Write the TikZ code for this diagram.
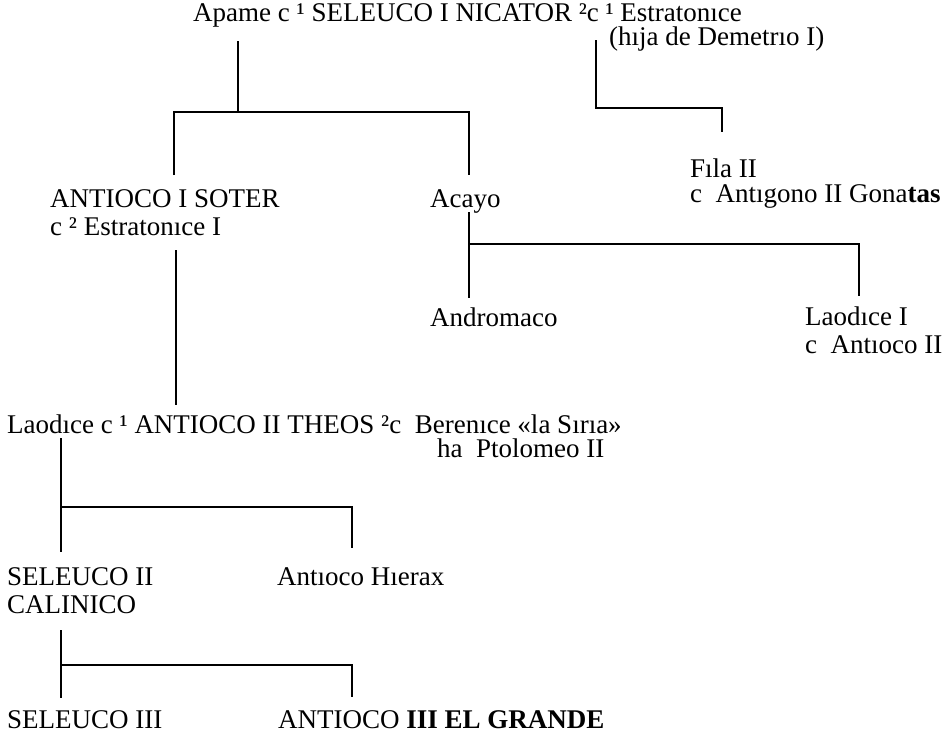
\documentclass[tikz,border=0pt]{standalone}
\usepackage{fontspec}
\setmainfont{Liberation Serif}
\newfontfamily\tnrfont{Liberation Serif}
\begin{document}
\begin{tikzpicture}[x=1pt,y=-1pt,
  person/.style={inner sep=0pt, anchor=base west, align=left, font=\tnrfont\fontsize{27}{28}\selectfont},
  tight/.style={font=\tnrfont\fontsize{27}{25}\selectfont},
  link/.style={line width=1.3pt, line cap=butt}]
\useasboundingbox[fill=white] (0,0) rectangle (943,740);
% persons (multi-line nodes are placed at the baseline of their last line)
\node[person] (seleuco1) at (193,21) {Apame c ¹ SELEUCO I NICATOR ²c ¹ Estratonıce};
\node[person] (hija) at (609,45) {(hıja de Demetrıo I)};
\node[person] (soter) at (50,235) {ANTIOCO I SOTER\\c ² Estratonıce I};
\node[person] (acayo) at (430,207) {Acayo};
\node[person,tight] (fila) at (690,202) {Fıla II\\c\ \ Antıgono II Gona{\bfseries tas}};
\node[person] (andromaco) at (430,326) {Andromaco};
\node[person] (laodice1) at (805,353) {Laodıce I\\c\ \ Antıoco II};
\node[person] (theos) at (7,433) {Laodıce c ¹ ANTIOCO II THEOS ²c\ \ Berenıce «la Sırıa»};
\node[person] (ptol) at (437,457) {ha\ \ Ptolomeo II};
\node[person] (seleuco2) at (7,613) {SELEUCO II\\CALINICO};
\node[person] (hierax) at (277,585) {Antıoco Hıerax};
\node[person] (seleuco3) at (7,728) {SELEUCO III};
\node[person] (antioco3) at (278,728) {ANTIOCO {\bfseries III EL GRANDE}};
% junction points
\coordinate (s1top) at (238,41);
\coordinate (s1j) at (238,112);
\coordinate (soterTop) at (174,175);
\coordinate (acayoTop) at (469,175);
\coordinate (e2top) at (596,40);
\coordinate (filaTop) at (722,132);
\coordinate (acayoBot) at (469,212);
\coordinate (andrTop) at (469,298);
\coordinate (laoTop) at (859,296);
\coordinate (soterBot) at (176,250);
\coordinate (theosTop) at (176,405);
\coordinate (l2top) at (61,438);
\coordinate (sel2Top) at (61,552);
\coordinate (hierTop) at (352,548);
\coordinate (sel2Bot) at (61,630);
\coordinate (sel3Top) at (61,698);
\coordinate (ant3Top) at (352,697);
% connectors
\draw[link] (s1top) -- (s1j);
\draw[link] (soterTop) |- (s1j) -| (acayoTop);
\draw[link] (e2top) |- (filaTop |- 0,108) -- (filaTop);
\draw[link] (acayoBot) -- (andrTop);
\draw[link] (acayoBot |- 0,244) -| (laoTop);
\draw[link] (soterBot) -- (theosTop);
\draw[link] (l2top) -- (sel2Top);
\draw[link] (l2top |- 0,507) -| (hierTop);
\draw[link] (sel2Bot) -- (sel3Top);
\draw[link] (sel2Bot |- 0,665) -| (ant3Top);
\end{tikzpicture}
\end{document}
